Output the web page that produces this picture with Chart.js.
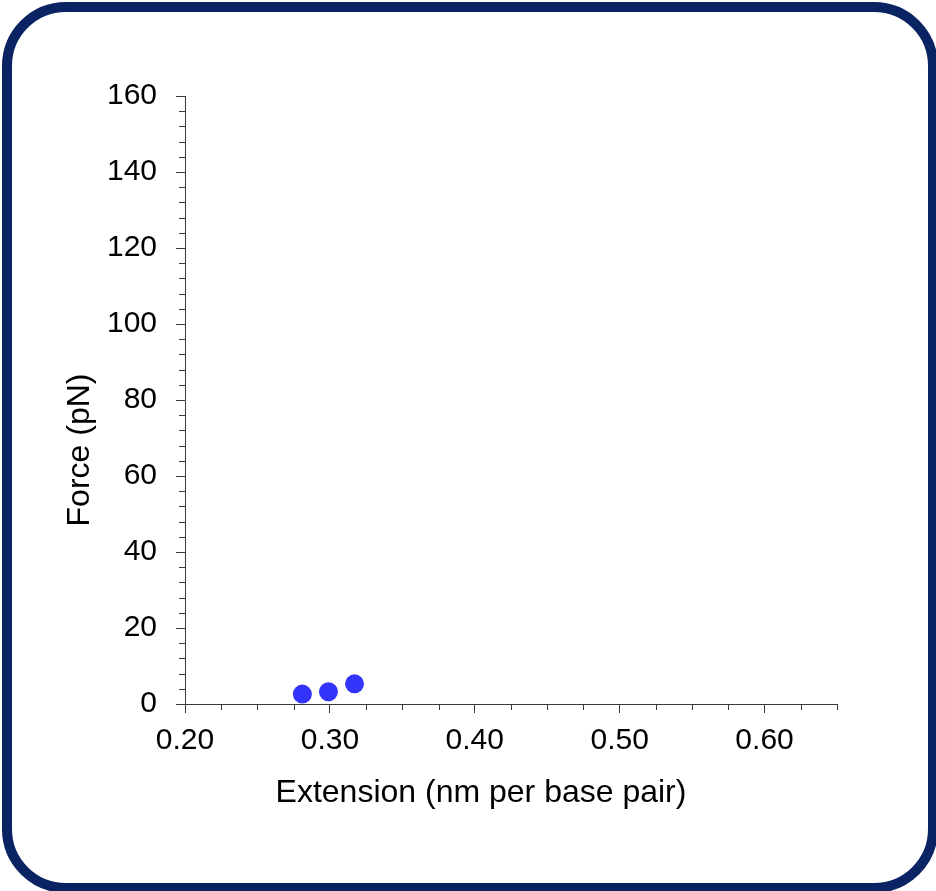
<!DOCTYPE html>
<html>
<head>
<meta charset="utf-8">
<script src="https://cdn.jsdelivr.net/npm/chart.js@4"></script>
<style>
    html, body { margin: 0; padding: 0; background: #fff; }
    body { width: 936px; height: 891px; position: relative; overflow: hidden; }
    .frame {
        position: absolute; left: 2px; top: 2px; width: 936px; height: 891px;
        box-sizing: border-box; border: 10px solid #0a2362; border-radius: 64px;
    }
    #chart { position: absolute; left: 0; top: 0; }
</style>
</head>
<body>
<div class="frame"></div>
<canvas id="chart" width="936" height="891"></canvas>
<script>
// data
const extension = [0.281, 0.299, 0.317];   // nm per base pair
const force = [2.6, 3.2, 5.3];             // pN

const xTitle = 'Extension (nm per base pair)';
const yTitle = 'Force (pN)';
const xMin = 0.2, xMax = 0.65, xMajor = 0.1, xMinor = 0.025;
const yMin = 0, yMax = 160, yMajor = 20, yMinor = 4;

const FONT = '"Liberation Sans", Arial, sans-serif';
const AXIS_COLOR = '#3a3a3a';

// minor ticks and the offset axis titles
const extrasPlugin = {
    id: 'extras',
    afterDraw(chart) {
        const ctx = chart.ctx;
        const xs = chart.scales.x;
        const ys = chart.scales.y;
        const area = chart.chartArea;

        ctx.save();
        ctx.strokeStyle = AXIS_COLOR;
        ctx.lineWidth = 1;
        ctx.beginPath();
        for (let i = 1; xMin + i * xMinor <= xMax + 1e-9; i++) {
            if (i % 4 === 0) continue; // major tick
            const px = Math.round(xs.getPixelForValue(xMin + i * xMinor)) + 0.5;
            ctx.moveTo(px, area.bottom);
            ctx.lineTo(px, area.bottom + 6);
        }
        for (let i = 1; yMin + i * yMinor <= yMax + 1e-9; i++) {
            if (i % 5 === 0) continue;
            const py = Math.round(ys.getPixelForValue(yMin + i * yMinor)) + 0.5;
            ctx.moveTo(area.left - 6, py);
            ctx.lineTo(area.left, py);
        }
        ctx.stroke();

        ctx.fillStyle = '#000';
        ctx.font = '32px ' + FONT;
        ctx.textAlign = 'center';
        ctx.textBaseline = 'alphabetic';
        ctx.fillText(xTitle, 481, 802);

        ctx.translate(88.5, 450);
        ctx.rotate(-Math.PI / 2);
        ctx.fillText(yTitle, 0, 0);
        ctx.restore();
    }
};

const ctx = document.getElementById('chart').getContext('2d');
new Chart(ctx, {
    type: 'scatter',
    data: {
        datasets: [{
            data: extension.map((x, i) => ({ x: x, y: force[i] })),
            backgroundColor: '#3434fa',
            borderWidth: 0,
            pointRadius: 9.5,
            pointHoverRadius: 9.5
        }]
    },
    options: {
        responsive: false,
        animation: false,
        layout: { padding: { top: 96, right: 99, left: 0, bottom: 0 } },
        plugins: { legend: { display: false }, tooltip: { enabled: false } },
        scales: {
            x: {
                type: 'linear',
                min: xMin,
                max: xMax,
                afterFit: (scale) => { scale.height = 187; },
                border: { display: true, color: AXIS_COLOR, width: 1 },
                grid: { drawOnChartArea: false, drawTicks: true, tickLength: 9, color: AXIS_COLOR },
                ticks: {
                    stepSize: xMajor,
                    includeBounds: false,
                    padding: 10,
                    color: '#000',
                    font: { family: FONT, size: 30 },
                    maxRotation: 0,
                    callback: (v) => v.toFixed(2)
                }
            },
            y: {
                type: 'linear',
                min: yMin,
                max: yMax,
                afterFit: (scale) => { scale.width = 185; },
                border: { display: true, color: AXIS_COLOR, width: 1 },
                grid: { drawOnChartArea: false, drawTicks: true, tickLength: 9, color: AXIS_COLOR },
                ticks: {
                    stepSize: yMajor,
                    padding: 19,
                    color: '#000',
                    font: { family: FONT, size: 30 }
                }
            }
        }
    },
    plugins: [extrasPlugin]
});
</script>
</body>
</html>
